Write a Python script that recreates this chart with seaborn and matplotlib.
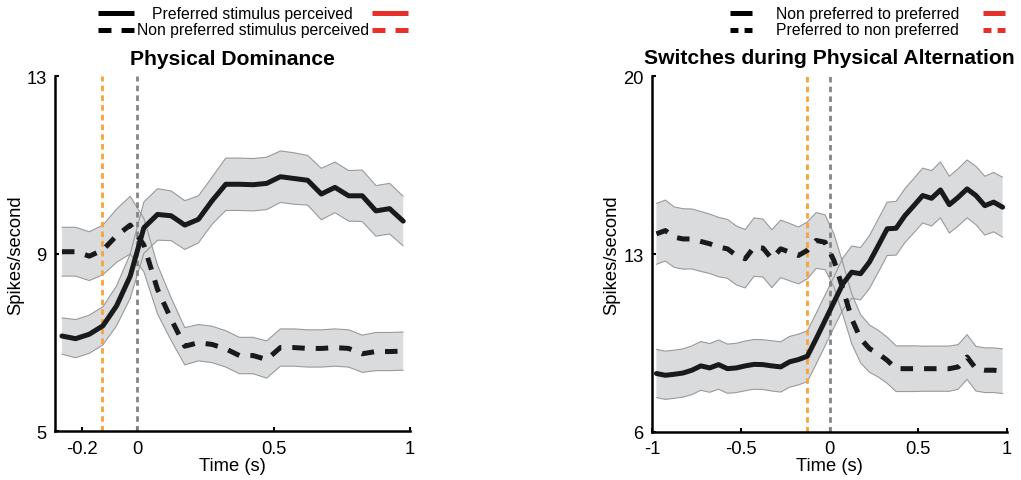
import matplotlib
matplotlib.use("Agg")
import matplotlib.pyplot as plt
from matplotlib.lines import Line2D
import numpy as np
import seaborn as sns

# ---- data: Physical Dominance ----
t_dom = [-0.275, -0.225, -0.175, -0.125, -0.075, -0.025, 0.025, 0.075, 0.125,
         0.175, 0.225, 0.275, 0.325, 0.375, 0.425, 0.475, 0.525, 0.575, 0.625,
         0.675, 0.725, 0.775, 0.825, 0.875, 0.925, 0.975]
dom_pref = [7.15, 7.09, 7.19, 7.38, 7.83, 8.50, 9.59, 9.89, 9.86, 9.65, 9.78,
            10.20, 10.57, 10.57, 10.56, 10.59, 10.74, 10.70, 10.66, 10.35, 10.50,
            10.31, 10.31, 9.97, 10.02, 9.74]
dom_pref_sem = [0.41, 0.43, 0.43, 0.43, 0.45, 0.50, 0.58, 0.58, 0.56, 0.55, 0.53,
                0.53, 0.59, 0.59, 0.59, 0.59, 0.58, 0.58, 0.56, 0.58, 0.57,
                0.57, 0.58, 0.57, 0.57, 0.56]
dom_nonpref = [9.05, 9.05, 8.95, 9.09, 9.41, 9.65, 9.20, 8.20, 7.53, 6.92, 7.00,
               6.96, 6.86, 6.71, 6.71, 6.62, 6.89, 6.89, 6.87, 6.87, 6.89, 6.87,
               6.75, 6.80, 6.80, 6.81]
dom_nonpref_sem = [0.55, 0.55, 0.55, 0.56, 0.60, 0.65, 0.60, 0.55, 0.48, 0.42,
                   0.41, 0.41, 0.41, 0.41, 0.41, 0.42, 0.42, 0.42, 0.42, 0.42,
                   0.42, 0.42, 0.42, 0.43, 0.43, 0.43]

# ---- data: Switches during Physical Alternation ----
t_alt = [-0.975, -0.925, -0.875, -0.825, -0.775, -0.725, -0.675, -0.625, -0.575,
         -0.525, -0.475, -0.425, -0.375, -0.325, -0.275, -0.225, -0.175, -0.125,
         -0.075, -0.025, 0.025, 0.075, 0.125, 0.175, 0.225, 0.275, 0.325, 0.375,
         0.425, 0.475, 0.525, 0.575, 0.625, 0.675, 0.725, 0.775, 0.825, 0.875,
         0.925, 0.975]
alt_to_pref = [8.30, 8.23, 8.27, 8.32, 8.43, 8.60, 8.52, 8.65, 8.49, 8.52, 8.60,
               8.66, 8.65, 8.60, 8.56, 8.76, 8.85, 8.98, 9.67, 10.39, 11.11,
               11.83, 12.29, 12.23, 12.69, 13.34, 14.00, 14.02, 14.52, 14.91,
               15.31, 15.20, 15.53, 14.95, 15.24, 15.57, 15.31, 14.91, 15.05, 14.85]
alt_to_pref_sem = [0.95, 0.95, 0.95, 0.95, 0.96, 0.96, 0.96, 0.97, 0.97, 0.97,
                   0.98, 0.98, 0.98, 0.99, 0.99, 1.00, 1.00, 1.00, 1.00, 1.00,
                   1.00, 1.02, 1.03, 1.03, 1.04, 1.05, 1.05, 1.06, 1.06, 1.07,
                   1.08, 1.09, 1.10, 1.12, 1.13, 1.14, 1.15, 1.16, 1.17, 1.18]
alt_to_nonpref = [13.80, 13.93, 13.67, 13.60, 13.60, 13.50, 13.41, 13.28, 13.21,
                  12.95, 12.82, 13.28, 13.24, 12.82, 13.21, 13.08, 12.95, 13.15,
                  13.54, 13.47, 12.75, 11.64, 10.46, 9.67, 9.28, 9.08, 8.82, 8.49,
                  8.49, 8.49, 8.49, 8.49, 8.49, 8.49, 8.56, 8.95, 8.49, 8.43,
                  8.43, 8.39]
alt_to_nonpref_sem = [1.20, 1.20, 1.19, 1.19, 1.18, 1.18, 1.17, 1.17, 1.16, 1.16,
                      1.15, 1.15, 1.14, 1.14, 1.13, 1.13, 1.12, 1.12, 1.10, 1.08,
                      1.05, 1.02, 0.98, 0.95, 0.93, 0.92, 0.91, 0.90, 0.90, 0.90,
                      0.89, 0.89, 0.89, 0.89, 0.88, 0.88, 0.88, 0.88, 0.88, 0.88]

onset_dom = -0.13
onset_alt = -0.126

sns.set_style("ticks")
plt.rcParams['font.family'] = ['Liberation Sans', 'DejaVu Sans']
plt.rcParams.update({'text.color': 'black', 'axes.labelcolor': 'black',
                     'xtick.color': 'black', 'ytick.color': 'black'})

fig = plt.figure(figsize=(10.21, 4.81), dpi=100)
ax1 = fig.add_axes([0.054, 0.101, 0.3476, 0.738])
ax2 = fig.add_axes([0.6386, 0.100, 0.3477, 0.739])

band_face = '#d9dbdd'
band_edge = '#9a9a9a'


def draw_panel(ax, t, m1, s1, m2, s2, onset):
    t = np.array(t)
    for m, s in ((m1, s1), (m2, s2)):
        m = np.array(m)
        s = np.array(s)
        ax.fill_between(t, m - s, m + s, facecolor=band_face, edgecolor='none', zorder=1)
        ax.plot(t, m - s, color=band_edge, lw=0.8, zorder=1.5)
        ax.plot(t, m + s, color=band_edge, lw=0.8, zorder=1.5)
    ax.axvline(onset, color='#f7a23a', lw=2, linestyle=(0, (2, 1.5)), zorder=2)
    ax.axvline(0, color='#858585', lw=2, linestyle=(0, (2, 1.5)), zorder=2)
    sns.lineplot(x=t, y=m1, ax=ax, color='#1a1a1a', lw=3.6, zorder=3)
    sns.lineplot(x=t, y=m2, ax=ax, color='#1a1a1a', lw=3.6, zorder=3)
    ax.lines[-1].set_dashes((2.5, 2.2))
    sns.despine(ax=ax)
    for sp in ('left', 'bottom'):
        ax.spines[sp].set_linewidth(1.8)
        ax.spines[sp].set_color('black')
    ax.tick_params(direction='in', length=3, width=1.5, labelsize=13.2, pad=6)
    ax.set_xlabel('Time (s)', fontsize=13.2, labelpad=0)
    ax.set_ylabel('Spikes/second', fontsize=13.2, labelpad=2)


draw_panel(ax1, t_dom, dom_pref, dom_pref_sem, dom_nonpref, dom_nonpref_sem, onset_dom)
ax1.set_xlim(-0.3, 1.0)
ax1.set_ylim(5, 13)
ax1.set_xticks([-0.2, 0, 0.5, 1])
ax1.set_xticklabels(['-0.2', '0', '0.5', '1'])
ax1.set_yticks([5, 9, 13])
ax1.set_yticklabels(['5', '9', '13'])
ax1.set_title('Physical Dominance', fontsize=15.2, fontweight='bold', pad=9)

draw_panel(ax2, t_alt, alt_to_pref, alt_to_pref_sem, alt_to_nonpref, alt_to_nonpref_sem, onset_alt)
ax2.set_xlim(-1.0, 1.0)
ax2.set_ylim(6, 20)
ax2.set_xticks([-1, -0.5, 0, 0.5, 1])
ax2.set_xticklabels(['-1', '-0.5', '0', '0.5', '1'])
ax2.set_yticks([6, 13, 20])
ax2.set_yticklabels(['6', '13', '20'])
ax2.set_title('Switches during Physical Alternation', fontsize=15.2, fontweight='bold', pad=10)

PX = 100 / 72.0  # pixels per point


# custom legends above each panel: black handle, label, red handle
def legend_row(xl, xr, hw, xtxt, y, label, dashed, ha='center'):
    W, H = 1021.0, 481.0
    lw = 3.6
    for x0, c in ((xl, 'black'), (xr, '#e8302a')):
        ln = Line2D([x0 / W, (x0 + hw) / W], [1 - y / H, 1 - y / H],
                    transform=fig.transFigure, color=c, lw=lw,
                    solid_capstyle='butt', dash_capstyle='butt')
        if dashed:
            on_px, off_px = 0.36 * hw, 0.28 * hw
            ln.set_dashes((on_px / PX / lw, off_px / PX / lw))
        fig.add_artist(ln)
    fig.text(xtxt / W, 1 - y / H, label, fontsize=11.3, ha=ha, va='center')


legend_row(98, 372, 36, 252, 14, 'Preferred stimulus perceived', False)
legend_row(98, 372, 36, 253, 31, 'Non preferred stimulus perceived', True)
legend_row(730, 983, 22, 776, 14, 'Non preferred to preferred', False, ha='left')
legend_row(730, 983, 22, 776, 31, 'Preferred to non preferred', True, ha='left')

fig.savefig('out.png', dpi=100)
